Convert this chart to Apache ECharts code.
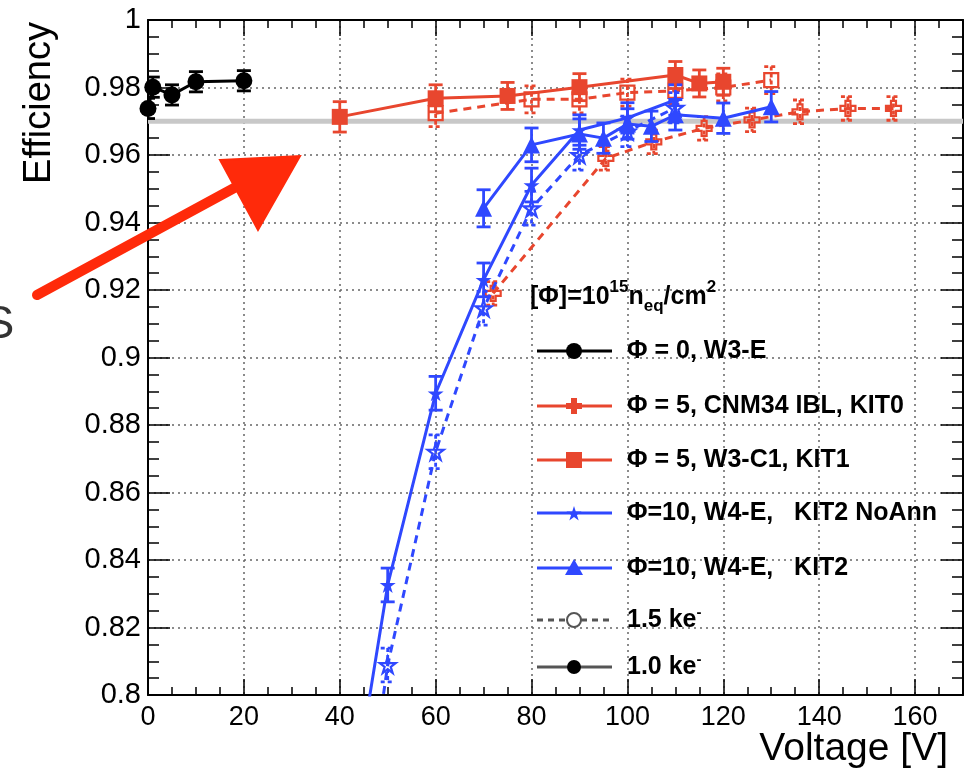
<!DOCTYPE html>
<html><head><meta charset="utf-8">
<script src="https://cdn.jsdelivr.net/npm/echarts@6/dist/echarts.min.js"></script>
<style>html,body{margin:0;padding:0;background:#fff}#c{width:970px;height:777px}</style>
</head><body><div id="c"></div>
<script>
// ---------- axis set-up ----------
const xMin = 0, xMax = 170, xStep = 20;
const yMin = 0.8, yMax = 1.0, yStep = 0.02;
const refLevel = 0.97;

// ---------- data: voltage [V], efficiency, error ----------
// Φ = 0, W3-E (1.0 ke)
const w3eV   = [0, 1, 5, 10, 20];
const w3eEff = [0.9738, 0.9801, 0.9778, 0.9817, 0.9820];
const w3eErr = [0.003, 0.003, 0.003, 0.003, 0.003];

// Φ = 5, W3-C1, KIT1 (1.0 ke)
const kit1V   = [40, 60, 75, 90, 110, 115, 120];
const kit1Eff = [0.9713, 0.9768, 0.9775, 0.9801, 0.9837, 0.9812, 0.9817];
const kit1Err = [0.0045, 0.004, 0.004, 0.004, 0.004, 0.004, 0.004];

// Φ = 5, W3-C1, KIT1 (1.5 ke)
const kit1hV   = [60, 80, 90, 100, 110, 120, 130];
const kit1hEff = [0.9724, 0.9765, 0.9765, 0.9785, 0.9790, 0.9800, 0.9822];
const kit1hErr = [0.004, 0.004, 0.004, 0.004, 0.004, 0.004, 0.004];

// Φ = 5, CNM34 IBL, KIT0 (1.5 ke)
const kit0hV   = [72, 95.5, 105.5, 116, 126, 136, 146, 155.5];
const kit0hEff = [0.9190, 0.9590, 0.9639, 0.9679, 0.9704, 0.9728, 0.9738, 0.9738];
const kit0hErr = [0.0035, 0.0035, 0.0035, 0.0035, 0.0035, 0.0035, 0.0035, 0.0035];

// Φ = 10, W4-E, KIT2 (1.0 ke)
const kit2V   = [70, 80, 90, 95, 100, 105, 110, 120, 130];
const kit2Eff = [0.9442, 0.9630, 0.9662, 0.9650, 0.9692, 0.9685, 0.9719, 0.9709, 0.9743];
const kit2Err = [0.0055, 0.005, 0.0045, 0.0045, 0.0045, 0.0045, 0.0045, 0.0045, 0.0045];

// Φ = 10, W4-E, KIT2 NoAnn (1.0 ke)
const noAnnV   = [40, 50, 60, 70, 80, 90, 100, 110];
const noAnnEff = [0.745, 0.8326, 0.8894, 0.9230, 0.9511, 0.9674, 0.9710, 0.9763];
const noAnnErr = [0.005, 0.005, 0.005, 0.005, 0.005, 0.0045, 0.0045, 0.0045];

// Φ = 10, W4-E, KIT2 NoAnn (1.5 ke)
const noAnnhV   = [40, 50, 60, 70, 80, 90, 100, 110];
const noAnnhEff = [0.710, 0.8089, 0.8721, 0.9146, 0.9442, 0.9600, 0.9670, 0.9740];
const noAnnhErr = [0.005, 0.005, 0.005, 0.005, 0.005, 0.0045, 0.0045, 0.0045];

// ---------- styling ----------
const FONT = '"Liberation Sans", Arial, Helvetica, sans-serif';
const RED = '#e8462e', BLUE = '#2f48ff', BLACK = '#000000';
const STAR = 'path://M1,0L1.2245,0.691L1.951,0.691L1.363,1.118L1.588,1.809L1,1.382L0.412,1.809L0.637,1.118L0.049,0.691L0.7755,0.691Z';
const CROSS = 'path://M1,0H2V1H3V2H2V3H1V2H0V1H1Z';

function lineSeries(v, eff, o) {
  return {
    type: 'line', data: v.map((x, i) => [x, eff[i]]),
    symbol: o.symbol, symbolSize: o.size, showAllSymbol: true, clip: true,
    z: o.z, silent: true, animation: false, emphasis: { disabled: true },
    lineStyle: { color: o.color, width: 3, type: o.dashed ? [8, 6] : 'solid' },
    itemStyle: o.hollow ? { color: 'rgba(255,255,255,0)', borderColor: o.color, borderWidth: 2.2 }
                        : { color: o.color, borderWidth: 0 }
  };
}
function errSeries(v, eff, err, color, dashed, z) {
  return {
    type: 'custom', coordinateSystem: 'cartesian2d', clip: true, z: z, silent: true, animation: false,
    data: v.map((x, i) => [x, eff[i], err[i]]), encode: { x: 0, y: 1 },
    renderItem(params, api) {
      const x = api.value(0), y = api.value(1), e = api.value(2);
      const t = api.coord([x, y + e]), b = api.coord([x, y - e]);
      const st = { stroke: color, lineWidth: 2.8 };
      if (dashed) st.lineDash = [4, 3];
      const hw = 7;
      return { type: 'group', children: [
        { type: 'line', shape: { x1: t[0], y1: t[1], x2: b[0], y2: b[1] }, style: st },
        { type: 'line', shape: { x1: t[0] - hw, y1: t[1], x2: t[0] + hw, y2: t[1] }, style: st },
        { type: 'line', shape: { x1: b[0] - hw, y1: b[1], x2: b[0] + hw, y2: b[1] }, style: st }
      ]};
    }
  };
}

const tickStyle = { color: '#000', width: 1.5 };
function xAx(pos, showLabel) {
  return {
    type: 'value', position: pos, min: xMin, max: xMax, interval: xStep,
    axisLine: { show: true, onZero: false, lineStyle: { color: '#000', width: 2 } },
    axisTick: { show: true, inside: true, length: 16, lineStyle: tickStyle },
    minorTick: { show: true, splitNumber: 4, length: 8, lineStyle: tickStyle },
    splitLine: { show: showLabel, lineStyle: { color: '#666', width: 1.5, type: [2, 4] } },
    axisLabel: { show: showLabel, fontSize: 27, color: '#000', fontFamily: FONT, margin: 9, showMaxLabel: false }
  };
}
function yAx(pos, showLabel) {
  return {
    type: 'value', position: pos, min: yMin, max: yMax, interval: yStep,
    axisLine: { show: true, onZero: false, lineStyle: { color: '#000', width: 2 } },
    axisTick: { show: true, inside: true, length: 22, lineStyle: tickStyle },
    minorTick: { show: true, splitNumber: 4, length: 11, lineStyle: tickStyle },
    splitLine: { show: showLabel, lineStyle: { color: '#666', width: 1.5, type: [2, 4] } },
    axisLabel: { show: showLabel, fontSize: 29, color: '#000', fontFamily: FONT, margin: 7,
                 formatter: v => String(parseFloat(Number(v).toFixed(2))) }
  };
}

// ---------- legend (drawn as graphic) ----------
const legX0 = 537, legX1 = 612, legMX = 574, legTX = 627;
const legRows = [351, 406, 460, 513, 568, 620, 667];
const legTexts = ['Φ = 0, W3-E', 'Φ = 5, CNM34 IBL, KIT0', 'Φ = 5, W3-C1, KIT1',
                  'Φ=10, W4-E,   KIT2 NoAnn', 'Φ=10, W4-E,   KIT2', '1.5 ke', '1.0 ke'];
function starPts(cx, cy, R) {
  const p = [];
  for (let k = 0; k < 10; k++) {
    const r = k % 2 ? R * 0.382 : R, a = -Math.PI / 2 + k * Math.PI / 5;
    p.push([cx + r * Math.cos(a), cy + r * Math.sin(a)]);
  }
  return p;
}
function crossPts(cx, cy, h, w) {
  return [[cx - w, cy - h], [cx + w, cy - h], [cx + w, cy - w], [cx + h, cy - w], [cx + h, cy + w], [cx + w, cy + w],
          [cx + w, cy + h], [cx - w, cy + h], [cx - w, cy + w], [cx - h, cy + w], [cx - h, cy - w], [cx - w, cy - w]];
}
const legColors = [BLACK, RED, RED, BLUE, BLUE, '#555', '#555'];
const legend = [];
legRows.forEach((y, i) => {
  const ls = { stroke: legColors[i], lineWidth: 2.8 };
  if (i === 5) ls.lineDash = [6, 5];
  legend.push({ type: 'line', shape: { x1: legX0, y1: y, x2: legX1, y2: y }, style: ls, z: 10 });
  let m;
  if (i === 0) m = { type: 'circle', shape: { cx: legMX, cy: y, r: 8 }, style: { fill: BLACK } };
  if (i === 1) m = { type: 'polygon', shape: { points: crossPts(legMX, y, 8, 3) }, style: { fill: RED } };
  if (i === 2) m = { type: 'rect', shape: { x: legMX - 8, y: y - 8, width: 16, height: 16 }, style: { fill: RED } };
  if (i === 3) m = { type: 'polygon', shape: { points: starPts(legMX, y + 1, 8) }, style: { fill: BLUE } };
  if (i === 4) m = { type: 'polygon', shape: { points: [[legMX, y - 9], [legMX + 9, y + 7], [legMX - 9, y + 7]] }, style: { fill: BLUE } };
  if (i === 5) m = { type: 'circle', shape: { cx: legMX, cy: y, r: 7 }, style: { fill: '#fff', stroke: '#555', lineWidth: 2 } };
  if (i === 6) m = { type: 'circle', shape: { cx: legMX, cy: y, r: 7 }, style: { fill: BLACK } };
  m.z = 11; legend.push(m);
  const txt = i >= 5 ? '{a|' + legTexts[i] + '}{s|-}' : '{a|' + legTexts[i] + '}';
  legend.push({ type: 'text', x: legTX, y: y, z: 11, style: {
    text: txt, verticalAlign: 'middle', align: 'left',
    rich: { a: { fontSize: 25, fontWeight: 'bold', fontFamily: FONT, fill: '#000', verticalAlign: 'middle', lineHeight: 30 },
            s: { fontSize: 15, fontWeight: 'bold', fontFamily: FONT, fill: '#000', verticalAlign: 'top' } } } });
});
legend.push({ type: 'text', x: 530, y: 297, z: 11, style: {
  text: '{a|[Φ]=10}{s|15}{a|n}{b|eq}{a|/cm}{s|2}', verticalAlign: 'middle', align: 'left',
  rich: { a: { fontSize: 25, fontWeight: 'bold', fontFamily: FONT, fill: '#000', verticalAlign: 'middle', lineHeight: 36 },
          s: { fontSize: 17, fontWeight: 'bold', fontFamily: FONT, fill: '#000', verticalAlign: 'top' },
          b: { fontSize: 17, fontWeight: 'bold', fontFamily: FONT, fill: '#000', verticalAlign: 'bottom' } } } });

// ---------- titles and annotation ----------
const extras = [
  { type: 'text', x: 40, y: 22, rotation: Math.PI / 2, z: 11,
    style: { text: 'Efficiency', fontSize: 38, fontFamily: FONT, fill: '#000', align: 'right', verticalAlign: 'middle' } },
  { type: 'text', x: 948, y: 749, z: 11,
    style: { text: 'Voltage [V]', fontSize: 39, fontFamily: FONT, fill: '#000', align: 'right', verticalAlign: 'middle' } },
  { type: 'text', x: -17, y: 325, z: 11,
    style: { text: 'S', fontSize: 47, fontFamily: FONT, fill: '#333', align: 'left', verticalAlign: 'middle' } },
  { type: 'polyline', z: 20, shape: { points: [[37, 295], [236, 187]] },
    style: { stroke: '#ff2a0a', lineWidth: 10, lineCap: 'round' } },
  { type: 'polygon', z: 20, shape: { points: [[220, 160], [300, 156], [258, 230]] },
    style: { fill: '#ff2a0a', stroke: '#ff2a0a', lineWidth: 2 } }
];

const option = {
  backgroundColor: '#fff',
  animation: false,
  grid: { left: 148, right: 7, top: 20, bottom: 82, containLabel: false, outerBoundsMode: 'none' },
  xAxis: [xAx('bottom', true), xAx('top', false)],
  yAxis: [yAx('left', true), yAx('right', false)],
  series: [
    { type: 'line', data: [[xMin, refLevel], [xMax, refLevel]], symbol: 'none', z: 1, silent: true,
      lineStyle: { color: '#c8c8c8', width: 5 } },
    lineSeries(kit1hV, kit1hEff, { symbol: 'rect', size: 14, color: RED, dashed: true, hollow: true, z: 2 }),
    errSeries(kit1hV, kit1hEff, kit1hErr, RED, true, 2),
    lineSeries(kit0hV, kit0hEff, { symbol: CROSS, size: 15, color: RED, dashed: true, hollow: true, z: 2 }),
    errSeries(kit0hV, kit0hEff, kit0hErr, RED, true, 2),
    lineSeries(noAnnhV, noAnnhEff, { symbol: STAR, size: 16, color: BLUE, dashed: true, hollow: true, z: 3 }),
    errSeries(noAnnhV, noAnnhEff, noAnnhErr, BLUE, true, 3),
    lineSeries(noAnnV, noAnnEff, { symbol: STAR, size: 16, color: BLUE, dashed: false, hollow: false, z: 4 }),
    errSeries(noAnnV, noAnnEff, noAnnErr, BLUE, false, 4),
    lineSeries(kit2V, kit2Eff, { symbol: 'triangle', size: 17, color: BLUE, dashed: false, hollow: false, z: 4 }),
    errSeries(kit2V, kit2Eff, kit2Err, BLUE, false, 4),
    lineSeries(kit1V, kit1Eff, { symbol: 'rect', size: 16, color: RED, dashed: false, hollow: false, z: 5 }),
    errSeries(kit1V, kit1Eff, kit1Err, RED, false, 5),
    lineSeries(w3eV, w3eEff, { symbol: 'circle', size: 17, color: BLACK, dashed: false, hollow: false, z: 6 }),
    errSeries(w3eV, w3eEff, w3eErr, BLACK, false, 6)
  ],
  graphic: legend.concat(extras)
};
const chart = echarts.init(document.getElementById('c'), null, { renderer: 'canvas' });
chart.setOption(option);
</script></body></html>
